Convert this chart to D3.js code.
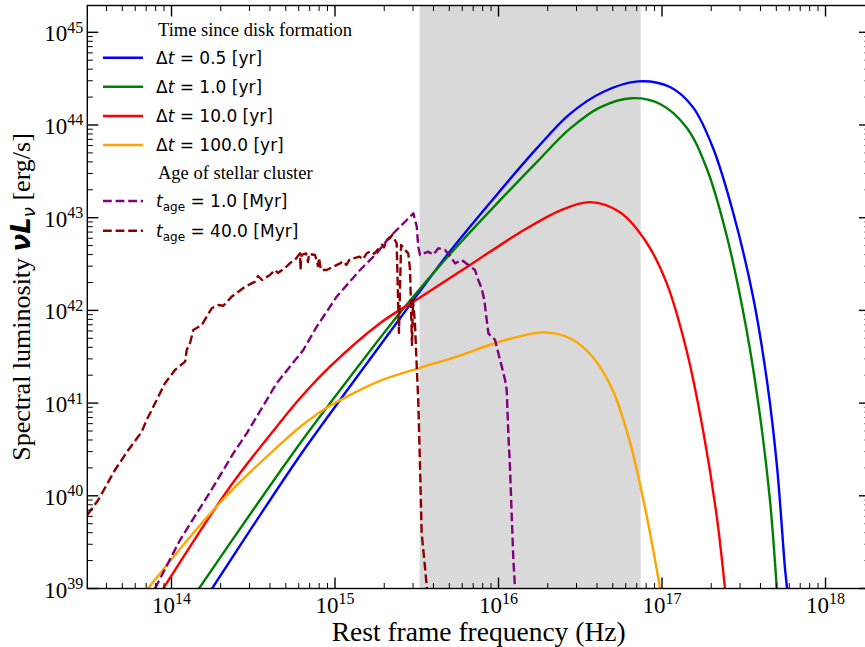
<!DOCTYPE html>
<html><head><meta charset="utf-8">
<script src="https://cdn.jsdelivr.net/npm/d3@7"></script>
<style>body{margin:0;background:#fff}svg{display:block}</style>
</head><body>
<svg id="chart" width="865" height="647"></svg>
<script>
// ---------- DATA (log10 of Hz and of erg/s) ----------
const xTickExps = [14, 15, 16, 17, 18];
const yTickExps = [39, 40, 41, 42, 43, 44, 45];
const shadeBand = [3.29e15, 7.4e16];   // Hz

const dt05_logNu = [14.248,14.5,14.8,15.1,15.4,15.7,16.0,16.235,16.437,16.639,16.853,17.049,17.19,17.312,17.434,17.557,17.642,17.703,17.752,17.765];
const dt05_logL  = [39.0,39.68,40.47,41.2,41.92,42.63,43.27,43.75,44.12,44.356,44.471,44.41,44.19,43.752,43.062,42.145,41.238,40.321,39.22,39.0];

const dt1_logNu = [14.168,14.5,14.8,15.1,15.4,15.7,16.0,16.234,16.437,16.621,16.815,16.988,17.151,17.273,17.396,17.518,17.599,17.66,17.702];
const dt1_logL  = [39.0,39.85,40.6,41.3,41.98,42.6,43.17,43.6,43.96,44.19,44.289,44.227,43.971,43.533,42.803,41.781,40.868,39.955,39.0];

const dt10_logNu = [13.95,14.358,14.643,14.786,14.969,15.275,15.52,15.826,16.131,16.376,16.56,16.743,16.906,17.029,17.151,17.253,17.335,17.385];
const dt10_logL  = [39.0,40.098,40.745,41.052,41.393,41.861,42.14,42.49,42.84,43.077,43.168,43.058,42.73,42.291,41.562,40.685,39.773,39.0];

const dt100_logNu = [13.856,14.113,14.358,14.643,14.786,14.928,15.072,15.275,15.52,15.724,15.968,16.131,16.274,16.437,16.58,16.702,16.804,16.886,16.947,16.988];
const dt100_logL  = [39.0,39.556,40.041,40.52,40.742,40.926,41.07,41.24,41.38,41.49,41.64,41.72,41.763,41.7,41.489,41.124,40.576,39.955,39.408,39.0];

const age1_logNu = [13.899,14.052,14.256,14.378,14.46,14.521,14.643,14.806,14.888,15.01,15.153,15.255,15.336,15.377,15.439,15.479,15.5,15.509,15.52,15.571,15.6,15.632,15.673,15.714,15.734,15.775,15.815,15.856,15.876,15.897,15.913,15.928,15.938,15.979,15.999,16.02,16.04,16.05,16.06,16.07,16.081,16.091,16.101];
const age1_logL  = [39.0,39.523,40.098,40.458,40.674,40.853,41.214,41.573,41.824,42.148,42.436,42.616,42.795,42.867,42.975,43.047,42.903,42.687,42.598,42.633,42.6,42.67,42.652,42.562,42.508,42.544,42.49,42.436,42.328,42.238,42.112,41.896,41.753,41.681,41.537,41.393,41.249,41.141,40.674,40.314,39.775,39.307,39.0];

const age40_logNu = [13.485,13.552,13.654,13.736,13.818,13.848,13.879,13.96,14.021,14.083,14.093,14.113,14.133,14.185,14.246,14.286,14.317,14.368,14.45,14.511,14.529,14.554,14.602,14.633,14.651,14.694,14.725,14.755,14.786,14.789,14.795,14.823,14.835,14.841,14.878,14.896,14.902,14.914,14.949,15.031,15.05,15.07,15.09,15.112,15.15,15.17,15.194,15.22,15.24,15.275,15.29,15.30,15.316,15.336,15.349,15.377,15.391,15.404,15.428,15.448,15.459,15.471,15.477,15.489,15.5,15.509,15.52,15.53,15.55,15.561,15.566];
const age40_logL  = [39.793,39.955,40.278,40.494,40.691,40.818,40.926,41.214,41.357,41.447,41.573,41.645,41.789,41.842,42.023,42.058,42.05,42.148,42.256,42.31,42.371,42.328,42.382,42.436,42.403,42.457,42.511,42.544,42.616,42.436,42.598,42.614,42.522,42.608,42.598,42.479,42.565,42.436,42.436,42.508,42.53,42.49,42.55,42.562,42.58,42.55,42.616,42.64,42.61,42.687,42.71,42.68,42.759,42.778,42.813,42.724,41.756,42.706,42.652,42.616,42.436,41.627,42.112,41.861,41.389,41.033,40.314,39.595,39.235,39.019,38.9];

const seriesNames  = ["dt05","dt1","dt10","dt100","age1","age40"];
const seriesColors = ["#0000ff","#008000","#ff0000","#ffa500","#800080","#8b0000"];
const seriesDashed = [false,false,false,false,true,true];
const seriesLabelVals = ["0.5","1.0","10.0","100.0","1.0","40.0"];
const legendTitles = ["Time since disk formation","Age of stellar cluster"];

// ---------- CHART ----------
const svg = d3.select("#chart");
const L = 87.3, R = 870, T = 5.5, B = 588.5;
const x = d3.scaleLog().domain([10**13.485, 10**18.272]).range([L, R]);
const y = d3.scaleLog().domain([1e39, 10**45.289]).range([B, T]);

svg.append("defs").append("clipPath").attr("id","clip")
  .append("rect").attr("x",L).attr("y",T).attr("width",R-L).attr("height",B-T);

// shaded band
svg.append("rect").attr("x", x(shadeBand[0])).attr("y", T)
  .attr("width", x(shadeBand[1]) - x(shadeBand[0])).attr("height", B - T)
  .attr("fill", "#d9d9d9");

const seriesData = {
  dt05: d3.zip(dt05_logNu, dt05_logL),
  dt1: d3.zip(dt1_logNu, dt1_logL),
  dt10: d3.zip(dt10_logNu, dt10_logL),
  dt100: d3.zip(dt100_logNu, dt100_logL),
  age1: d3.zip(age1_logNu, age1_logL),
  age40: d3.zip(age40_logNu, age40_logL)
};

const lineSmooth = d3.line().x(d => x(10**d[0])).y(d => y(10**d[1])).curve(d3.curveCatmullRom.alpha(0.5));
const lineRaw = d3.line().x(d => x(10**d[0])).y(d => y(10**d[1]));

const gLines = svg.append("g").attr("clip-path","url(#clip)");
seriesNames.forEach((name, i) => {
  gLines.append("path")
    .attr("d", seriesDashed[i] ? lineRaw(seriesData[name]) : lineSmooth(seriesData[name]))
    .attr("fill","none")
    .attr("stroke", seriesColors[i])
    .attr("stroke-width", 2.4)
    .attr("stroke-dasharray", seriesDashed[i] ? "8.8,3.8" : null)
    .attr("stroke-linejoin","round");
});

// ticks
const isMajor = v => Math.abs(Math.log10(v) - Math.round(Math.log10(v))) < 1e-6;
const gAx = svg.append("g").attr("stroke","#000");
x.ticks().forEach(v => {
  const px = x(v), len = isMajor(v) ? 11 : 5.5, w = isMajor(v) ? 1.4 : 1;
  gAx.append("line").attr("x1",px).attr("x2",px).attr("y1",B).attr("y2",B-len).attr("stroke-width",w);
  gAx.append("line").attr("x1",px).attr("x2",px).attr("y1",T).attr("y2",T+len).attr("stroke-width",w);
});
y.ticks().forEach(v => {
  const py = y(v), len = isMajor(v) ? 11 : 5.5, w = isMajor(v) ? 1.4 : 1;
  gAx.append("line").attr("y1",py).attr("y2",py).attr("x1",L).attr("x2",L+len).attr("stroke-width",w);
  gAx.append("line").attr("y1",py).attr("y2",py).attr("x1",R).attr("x2",R-len).attr("stroke-width",w);
});
svg.append("rect").attr("x",L).attr("y",T).attr("width",R-L).attr("height",B-T)
  .attr("fill","none").attr("stroke","#000").attr("stroke-width",1.4);

const serif = "'Liberation Serif','Times New Roman',serif";
const sans = "'DejaVu Sans',sans-serif";

// x tick labels
xTickExps.forEach(e => {
  const t = svg.append("text").attr("x", x(10**e)).attr("y", B + 24)
    .attr("text-anchor","middle").attr("font-family",serif).attr("font-size",23);
  t.append("tspan").text("10");
  t.append("tspan").attr("dy",-8.5).attr("font-size",16).text(e);
});
// y tick labels
yTickExps.forEach(e => {
  const t = svg.append("text").attr("x", L - 4).attr("y", y(10**e) + 9)
    .attr("text-anchor","end").attr("font-family",serif).attr("font-size",23);
  t.append("tspan").text("10");
  t.append("tspan").attr("dy",-8.5).attr("font-size",16).text(e);
});

// axis labels
svg.append("text").attr("x",(L+R)/2).attr("y",640.5).attr("text-anchor","middle")
  .attr("font-family",serif).attr("font-size",27.5).text("Rest frame frequency (Hz)");

const yl = svg.append("text").attr("transform",`translate(30,${(T+B)/2}) rotate(-90)`)
  .attr("text-anchor","middle").attr("font-family",serif).attr("font-size",26);
yl.append("tspan").text("Spectral luminosity ");
yl.append("tspan").attr("font-family",sans).attr("font-style","italic").attr("font-weight","bold").text("νL");
yl.append("tspan").attr("font-family",sans).attr("font-style","italic").attr("font-size",18).attr("dy",5).text("ν");
yl.append("tspan").attr("dy",-5).text(" [erg/s]");

// legend
const lgX0 = 103, lgX1 = 143, lgTx = 156;
const rowY = [30, 57.7, 86.7, 116, 145, 173.3, 201, 230.7];
const lg = svg.append("g");
lg.append("text").attr("x",lgTx+2).attr("y",rowY[0]+5.5).attr("font-family",serif).attr("font-size",18.5).text(legendTitles[0]);
lg.append("text").attr("x",lgTx+2).attr("y",rowY[5]+5.5).attr("font-family",serif).attr("font-size",18.5).text(legendTitles[1]);
const rowIdx = [1,2,3,4,6,7];
seriesNames.forEach((name, i) => {
  const ry = rowY[rowIdx[i]];
  lg.append("line").attr("x1",lgX0).attr("x2",lgX1).attr("y1",ry).attr("y2",ry)
    .attr("stroke",seriesColors[i]).attr("stroke-width",2.4)
    .attr("stroke-dasharray", seriesDashed[i] ? "8.8,3.8" : null);
  const t = lg.append("text").attr("x",lgTx).attr("y",ry+6).attr("font-family",sans).attr("font-size",17);
  if (!seriesDashed[i]) {
    t.append("tspan").text("Δ");
    t.append("tspan").attr("font-style","italic").text("t");
    t.append("tspan").text(" = " + seriesLabelVals[i] + " [yr]");
  } else {
    t.append("tspan").attr("font-style","italic").text("t");
    t.append("tspan").attr("font-size",12).attr("dy",4).text("age");
    t.append("tspan").attr("dy",-4).text(" = " + seriesLabelVals[i] + " [Myr]");
  }
});
</script>
</body></html>
